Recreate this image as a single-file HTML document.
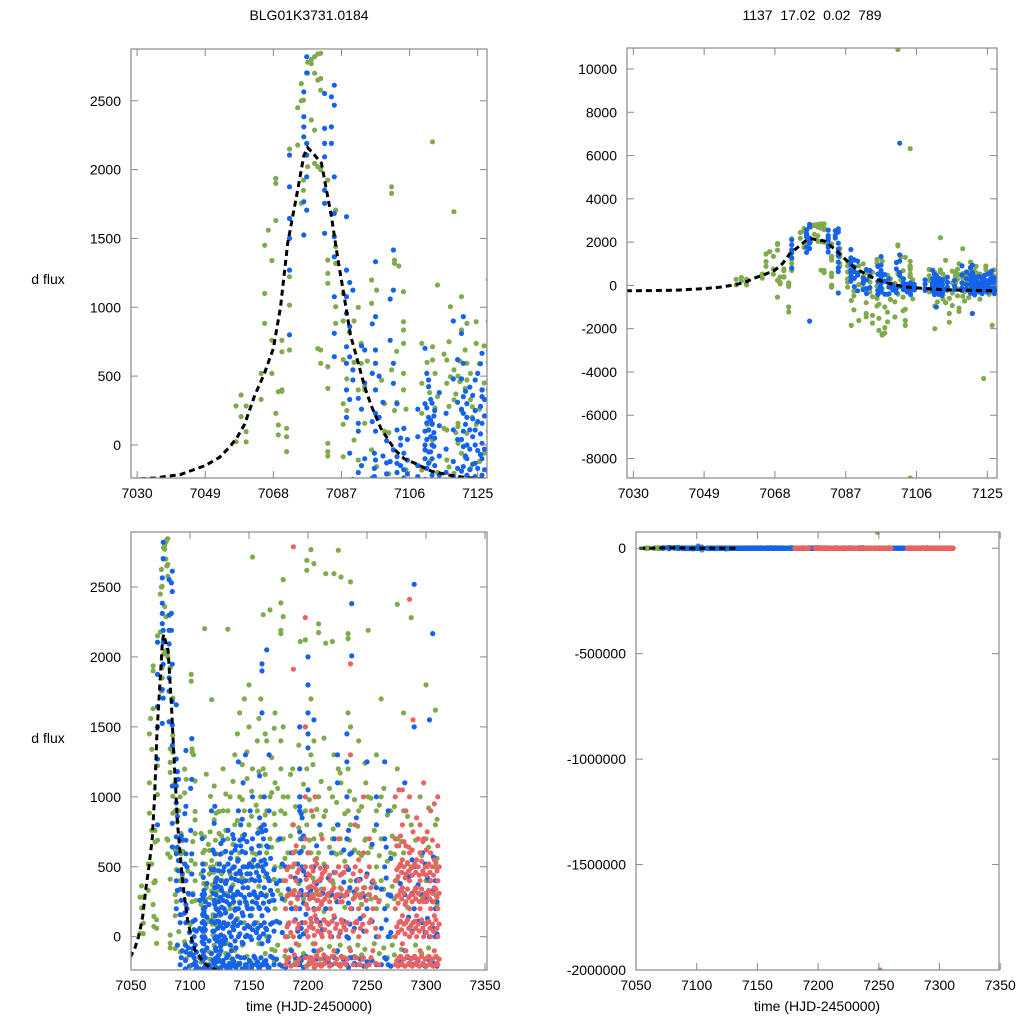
<!DOCTYPE html>
<html><head><meta charset="utf-8">
<style>
html,body{margin:0;padding:0;background:#fff;width:1024px;height:1024px;overflow:hidden;}
svg{display:block;font-family:"Liberation Sans",Arial,sans-serif;}
</style></head>
<body>
<svg id="chart" width="1024" height="1024" viewBox="0 0 1024 1024" xmlns="http://www.w3.org/2000/svg">
<rect width="1024" height="1024" fill="#fff"/>
<text x="309" y="20" font-size="14" text-anchor="middle">BLG01K3731.0184</text>
<text x="812" y="20" font-size="14" text-anchor="middle" xml:space="preserve">1137  17.02  0.02  789</text>
<text x="48" y="284" font-size="14" text-anchor="middle">d flux</text>
<text x="48" y="743" font-size="14" text-anchor="middle">d flux</text>
<text x="309" y="1011" font-size="14" text-anchor="middle">time (HJD-2450000)</text>
<text x="817" y="1011" font-size="14" text-anchor="middle">time (HJD-2450000)</text>
<g id="panels"></g>
</svg>
<script>
// ---- data: [time, [flux values]] groups ----
const greenGroups = [
[7057.6,[283,24]],[7059,[206,363]],[7060.4,[283,97,22]],[7064.6,[331,520]],[7065.6,[883,1450,1100]],[7066.6,[1560]],
[7067.6,[520,1340,760]],[7068.7,[1630,1936,1900,230,-540]],[7069.4,[387,73,145]],[7070.4,[677,760,400,390]],
[7071.7,[121,60,-48,-1000,-1230]],[7072.5,[690,1016,1222,2150]],[7074.8,[2178,2450]],[7075.8,[2625,1755,2500]],
[7076.4,[2505,1850,1924]],[7077.6,[2021,2700,2780]],[7078.6,[2770,2360,2800]],[7079.5,[2820,2287,2045,2700]],
[7080.4,[2650,2021,700,2840]],[7081.2,[2845,2662,2577,2000,690,593]],[7083.2,[1924,1246,1343,1174,411,-48,12,-80,569]],
[7085.4,[1319,1706,1440,1004,883]],[7087.5,[1100,900,620,300,150,-85]],[7088.5,[-1850,-700,480,250]],
[7090.5,[-1620,36,900,600]],[7091.7,[-109,1000,400]],[7092.5,[-1300,-1450,-800,738,593]],[7093.5,[400,424,157,-300]],
[7095.4,[1198,1028,-950,-600,-36]],[7096.8,[-2300,-2250,1125,-157]],[7097.5,[-2200,-1950,-1000,200]],[7099,[-650,300,100]],
[7101,[1875,1827,545,10900,-400]],[7101.8,[1319,1343,250]],[7103,[-1620,-1850,-1100,1300]],
[7104.3,[1113,895,835,738,520,400,6320,-8900]],[7109.4,[738,448,230,-182,-300]],[7110.9,[-2000,-950,150,600]],
[7112.4,[2202,714,617,36,157]],[7113.8,[1162,351,-800,-200]],[7114.8,[-1700,-1300,-600]],[7116.4,[617,109,448,-109]],
[7117.4,[1004,496,-1200,-1050]],[7118.4,[1694,327,545,-206,-500]],[7119.5,[157,12,133,500]],[7120.5,[1077,835,-60,250]],
[7122,[883,593,472,85,300]],[7123.5,[278,200,-300]],[7124,[-4300]],[7124.6,[895,738,150]],[7126.3,[-1850,400]],
[7128,[-200,100,400,600,900,1200]],[7132,[2198,700,300,-50,900]],[7134,[-150,200,450,1000]],[7138,[800,500,200,-100,1300]],
[7142,[1000,600,250,-200,1600]],[7146,[1700,900,400,100,-150]],[7150,[1500,1800,800,400,0]],[7153,[2714,1200,600,200]],
[7157,[900,500,100,1400]],[7160,[1700,1000,650,300,-50]],[7162,[2302,1200,800,500]],[7165,[1400,900,600,300,0]],
[7167.8,[2336,1000,700,400]],[7172,[1600,1100,800,500,200,-100]],[7177,[2386,2190,2167,1400,1200,900,700,500,300]],
[7179,[2553,2288,1500,1000,700,400]],[7183,[1000,600,300,0]],[7187,[1200,800,500,200]],[7193.5,[2110,1000,700,400]],
[7197.8,[2122,1500,900,500]],[7199,[2690,2619,1200,800]],[7202.5,[2767,1700,1300,600]],[7205,[2667,1400,700,300]],
[7209,[2236,2174,1000,600]],[7215,[2595,2098,900,500,200]],[7220.7,[2110,1000,700,400]],[7222,[2595,1300,600]],
[7225.7,[2762,1200,800,500]],[7228,[2571,1100,600,300]],[7234,[2167,2131,1600,1200,900]],[7236,[2536,1500,800,400]],
[7243,[1400,900,600,300]],[7249,[75000,1100,700]],[7251,[2190,1000,600,300]],[7258,[1300,900,500,200]],
[7262,[1700,1000,700,400]],[7270,[900,600,300,0]],[7275.7,[2376,1200,700,400]],[7281,[1600,900,600]],
[7287.5,[2281,800,500]],[7295,[1000,600,300]],[7300,[1800,700,400]],[7308,[1620,800,500,300]],
[7089.2,[-1130,-480,820,-260]],[7094.2,[-1740,-1380,-520,610]],[7095.9,[-1520,-2080,-870,-330]],[7098.2,[-1680,-1240,-420,470]],
[7100.2,[-1460,-760,-210,90]],[7102.4,[-1170,-540,680,310]],[7105,[-620,-180,260]],[7111.6,[-760,-310,380,-120]],
[7113.1,[-420,520,-640,270]],[7115.6,[-350,-930,120,660]],[7117,[-480,280,-160,750]],[7118.9,[-280,370,-720,90]],
[7120,[-560,460,-240,610]],[7121.5,[-380,690,-90,410]],[7123,[-640,520,-170,330]],[7125.5,[-410,590,-120,260]],
[7126.8,[-330,450,-60,720]],
[7130.3,[-120,310,760,1020,180]],[7136.4,[-80,370,660,1110,240]],[7140.2,[-190,130,560,830,1450]],[7144.3,[-60,420,720,980,1230]],
[7148.3,[-140,240,680,1130,1320]],[7152.2,[-210,150,530,860,1040]],[7156.1,[-170,280,590,940]],[7158.4,[-50,360,770,1180,1560]],
[7163.7,[-120,430,870,1160,1450]],[7169.2,[-90,260,640,1030,1280]],[7171.4,[-180,410,880,1490]],[7174.3,[-60,330,690,1060]],
[7180.4,[-140,260,560,880]],[7185.2,[-90,320,720,1160]],[7189.4,[-170,210,610,930]],[7192.2,[-60,380,780,1370]],
[7196.2,[-120,270,640,1090]],[7201.2,[-180,310,690,980]],[7204.2,[-50,420,860,1230]],[7207.4,[-130,260,560,910]],
[7211.2,[-90,340,730,1110]],[7213.6,[-160,180,520,860,1420]],[7218.2,[-70,290,640,1060]],[7221.4,[-140,380,770]],
[7224.2,[-110,250,590,960]],[7227.3,[-60,350,700,1170]],[7231.2,[-150,210,540,880]],[7235.2,[-80,330,690,1040]],
[7239.4,[-140,280,620,980]],[7242.2,[-60,410,790]],[7245.4,[-130,230,580,930]],[7248.2,[-90,350,690,1240]],
[7253.4,[-160,270,640,990]],[7256.2,[-50,380,760]],[7260.4,[-120,260,580,940]],[7264.2,[-80,340,700,1060]],
[7267.3,[-150,220,540,870]],[7271.4,[-60,360,720]],[7273.2,[-130,270,590,930]],[7279.2,[-90,330,680]],
[7284.4,[-140,210,520,860]],[7291.2,[-60,350,690]],[7296.4,[-120,260,580]],[7302.2,[-80,330,640,920]],[7309.4,[-150,230,560,840]]
];
const blueGroups = [
[7072.5,[2105,1875,1645,1500,1270,800]],[7076.5,[2565,2384,2311,2238,1767,1525]],[7077.3,[2820,2703,2190,2105,1948,1706,-1650]],
[7082.3,[2553,2299,2190,2093,1851,1755,1537]],[7084.2,[2529,2311,2190]],[7085,[2468,2613,1948,1682,1513,1367,1077,641,811,-350]],
[7088.4,[1658,1270,1077,956,714,593,400,200]],[7090.2,[472,1125,545,-250]],[7091.7,[157,339,100,-200]],[7093.5,[690,450,-100]],
[7096.5,[1331,932,690,593,400,230,-109,100,-300]],[7097.5,[500,200,-400]],[7101.5,[1416,1125,448,593,-36,6570]],
[7102.5,[-133,-85,109,-200,300]],[7103.5,[-150,0,-300,50]],[7110.3,[-36,702,300,-100,-250,0,100]],
[7111.3,[424,472,-133,109,-1000,200,-50]],[7112.3,[303,-100,0,-220,150]],[7113,[50,-150,250,-300]],
[7121,[932,593,351,230,-12,-157,-1300,100]],[7122,[0,200,-100,300,-220]],[7124.3,[472,109,-133,-230,0,250]],
[7126.2,[666,351,157,12,-100,-220,400]],
[7129,[-200,-50,100,300,500,200,0]],[7131,[-150,80,250,400,-220]],[7135,[-200,0,150,350,600,420,-100]],
[7137,[-180,50,250,500,700,300,100]],[7139,[-220,-80,120,300,450,650,200]],[7141,[-200,0,200,400,550,900,1250]],
[7143,[-150,100,300,450,800,650]],[7145,[-230,-50,150,350,500,700,1100]],[7147,[-200,0,250,400,600,1300]],
[7149,[-220,80,200,350,500]],[7151,[-180,0,150,300,450,900]],[7153,[-200,50,250,500,700,1000]],[7155,[-150,100,300,400]],
[7159,[-220,0,200,400,600,850,1150]],[7161,[-200,-50,150,300,500,750,1600,1900,1950]],[7163,[-180,100,350,550,800,1000]],
[7165,[-200,50,200,450,650,2050]],[7167,[-220,0,250,400,900,1300]],[7170,[-150,100,300]],[7176,[-200,100,400,700]],
[7181,[-220,0,200,500]],[7186,[-100,200,600]],[7193,[-200,0,200,400,600,750,900,930,1000,1200,1500]],
[7195,[-150,100,300,500,700,850]],[7200,[-200,0,300,600,1050,1350,1450,1600,1800,2000]],[7205,[-100,200,500,1550]],
[7210,[-200,100,400,800]],[7215,[-150,200,500]],[7220,[-200,0,300,600]],[7225,[-100,250,800,1100,1300]],
[7233,[-200,0,300,500,700,1000,1250,1450]],[7237,[-150,200,600,2381,2007]],[7241,[-200,100,400,850]],
[7250,[-180,200,450,1250]],[7258,[-200,0,350,800,1000]],[7265,[-150,200,500,700,1250]],[7268,[-200,0,300,900]],
[7282,[-100,300,1100]],[7290,[2519,1500,-150,200,500]],[7297,[-200,100,300,600]],[7303,[-150,0,400,1550]],
[7305.7,[2167,250]],[7308,[-200,0,200,400]],
[7089.3,[1180,860,640,330,-60]],[7092.6,[720,260,-150,-380]],[7095.6,[880,520,170,-240,-420]],[7098.6,[310,-80,-390]],
[7100.6,[1060,760,-120,-330]],[7104.4,[-60,-240,120,-420,-180]],[7110.8,[520,-360,160,-170,40,-420,270]],
[7111.9,[-280,60,330,-50,-410,180]],[7112.8,[-360,210,-10,90,-460]],[7120.5,[810,480,-190,40,-360,260]],
[7121.6,[150,-270,390,-80,-440]],[7122.8,[-300,110,-180,420,-30]],[7123.6,[360,-140,60,-380,190]],[7125,[-310,170,-40,520,-170]],
[7125.8,[280,-260,80,-70,590]],[7126.9,[-180,210,-30,330,-380]],
[7096.2,[-230,-170,-60]],[7099.6,[-210,-130,30]],[7105.4,[-210,-110,40]],
[7108.3,[-230,-150,60,260]],[7114.3,[-220,-80,140,380]],[7116.2,[-200,-30,230]],[7118.2,[-230,-120,110,480,900]],
[7119.4,[-170,40,310,620]],
[7128.1,[-170,60,260,470,690]],[7130.2,[-210,-20,170,380,610]],[7132.3,[-130,90,290,520,760]],[7133.4,[-190,30,230,470]],
[7134.2,[-220,-60,140,330,560]],[7136.2,[-160,70,280,490,730]],[7138.2,[-210,-30,190,410,620]],[7140.3,[-140,80,320,540]],
[7142.2,[-190,20,240,470,690]],[7144.2,[-230,-40,170,390,610,840]],[7146.2,[-150,60,280,500,730]],[7148.2,[-200,10,220,450,680]],
[7150.3,[-170,70,300,520]],[7152.2,[-220,-20,200,410,630]],[7154.2,[-140,90,320,550]],[7156.3,[-200,30,240,460]],
[7157.4,[-180,60,280,510,740]],[7158.3,[-220,-10,210,430,650]],[7160.2,[-150,80,310,540,780]],[7162.2,[-200,20,240,470,700]],
[7164.2,[-170,60,290,520,760]],[7166.2,[-220,-30,190,420,640]],[7168.3,[-140,90,330,560]],[7171.2,[-200,40,260,480]],
[7173.3,[-160,110,380]],[7178.2,[-210,30,270,520]],[7183.3,[-180,90,340]],[7189.2,[-150,120,420]],
[7191.3,[-200,40,280,520]],[7194.2,[-170,60,330,610,880]],[7196.2,[-220,20,240,470,720]],[7198.3,[-140,160,440]],
[7202.3,[-190,70,330]],[7207.3,[-160,120,380,650]],[7212.3,[-200,50,310]],[7217.2,[-180,90,420]],[7222.3,[-150,140,460,700]],
[7227.2,[-200,30,290]],[7230.3,[-170,110,390,620]],[7234.3,[-220,-10,240,480,760]],[7235.4,[-150,90,350,590]],
[7239.2,[-190,60,320]],[7244.2,[-160,130,410]],[7247.3,[-210,40,290]],[7254.3,[-170,110,390,660]],
[7262.2,[-200,60,340]],[7266.3,[-160,120,420,640]],[7270.2,[-210,30,290,560]],[7278.2,[-180,110,380]],
[7285.3,[-150,140,430]],[7288.2,[-200,40,310,550]],[7293.3,[-170,110,370]],[7299.2,[-210,30,280,520]],
[7301.3,[-160,130,420]],[7306.3,[-190,60,330,570]],[7309.3,[-210,20,250]]
];
const redGroups = [
[7181,[-200,0,200,400,-100]],[7184,[-150,100,300,500]],[7187.6,[2787,1912,800,600,300,0,-200]],[7190,[-200,-50,200,400,650]],
[7197.7,[2281,1500,1000,700,500,300,100,-150]],[7200,[-200,0,200,350,450,600]],[7203,[-150,100,300,500,900]],
[7206,[-200,-50,150,350,550,1000]],[7209,[-100,200,400,300]],[7212,[-200,0,250,450,700]],[7216,[-150,100,300,500]],
[7219,[-200,0,200,400]],[7222,[-100,150,350]],[7226,[-200,0,300,500,700]],[7229,[-150,100,250,450]],
[7232,[-200,50,300,500]],[7236,[1950,1300,200,-100]],[7240,[-150,100,300,500,800]],[7243,[-200,0,200,400,550]],
[7247,[-150,150,350,600,1000]],[7251,[-2000000]],[7252,[-200,100,300,500,700]],[7255,[-100,200,400]],[7260,[-200,0,250]],
[7274,[-200,0,200,400,700,1000]],[7277,[-150,100,300,500,650,1050]],[7280,[-200,-50,150,350,550,800,1050]],
[7283,[-100,100,250,450,650,900]],[7286,[-200,0,200,400,600,1000,2412]],[7289,[-150,100,300,500,750,1550]],
[7292,[-200,0,150,350,550,850]],[7295,[-100,200,400,600,800]],[7298,[-200,0,250,450,700,1100]],
[7301,[-150,100,300,500,750]],[7304,[-200,0,200,400,600,900]],[7307,[-100,150,350,550,950]],[7310,[-200,0,200,400,650,1000]],
[7182.3,[-170,70,290,480]],[7185.4,[-210,30,240,430]],[7188.4,[-130,110,330,520]],[7191.2,[-190,60,270,460]],
[7192.4,[-160,90,310,480]],[7198.6,[-210,40,230,410]],[7201.4,[-150,70,270,440]],[7202.3,[-190,130,360]],
[7204.4,[-170,60,280,470]],[7205.3,[-220,10,190,390]],[7207.4,[-140,110,330,520]],[7208.3,[-200,40,260]],
[7210.4,[-160,80,300,490]],[7211.3,[-210,20,230,420]],[7213.4,[-130,120,340]],[7214.3,[-190,50,270,470]],
[7217.4,[-160,90,310]],[7218.3,[-210,30,250,440]],[7220.4,[-140,110,330]],[7223.3,[-190,60,280,460]],
[7224.4,[-160,90,300]],[7227.4,[-210,40,250,440]],[7228.3,[-140,120,340]],[7230.4,[-190,70,290,460]],
[7233.4,[-160,100,320]],[7238.3,[-200,40,270,450]],[7241.4,[-150,110,340]],[7244.3,[-200,60,280,470]],
[7246.4,[-160,90,310]],[7249.3,[-210,40,260,430]],[7253.4,[-150,120,350]],[7257.3,[-190,60,280]],
[7275.3,[-170,70,290,480,650]],[7276.4,[-210,30,240,430]],[7278.4,[-140,110,330,520,720]],[7279.3,[-190,50,270,460]],
[7281.4,[-160,90,310,500,680]],[7282.3,[-210,20,230,420]],[7284.3,[-140,120,340,530]],[7285.4,[-190,60,280,470,640]],
[7287.4,[-160,80,300,490]],[7288.3,[-210,30,250,440,620]],[7290.4,[-140,110,330,520]],[7291.3,[-190,60,270,460]],
[7293.4,[-160,90,310,500,700]],[7294.3,[-210,40,250,440]],[7296.3,[-140,120,340,540]],[7297.4,[-190,60,280,470,680]],
[7299.4,[-160,90,310,500]],[7300.3,[-210,30,250,440,620]],[7302.4,[-140,110,330,520]],[7303.3,[-190,60,270,460]],
[7305.4,[-160,90,310,500,690]],[7306.3,[-210,40,250,440]],[7308.4,[-140,120,340,530]],[7309.3,[-190,60,280,470]],
[7311.2,[-160,90,310,500]]
];
const modelT = [7028,7035,7042,7049,7053,7056,7058,7060,7062.7,7065.5,7068,7070,7072,7074.8,7076.5,7077.6,7079,7081.4,7084.2,7086,7087.9,7089.5,7091.7,7093.5,7095.4,7098,7101.9,7104.5,7107.5,7112,7116.9,7122,7127.6,7135];
const modelF = [-250,-240,-215,-150,-90,-10,60,150,351,520,700,1000,1466,1853,2100,2160,2120,2047,1660,1350,1054,800,593,420,279,120,-36,-100,-133,-190,-218,-238,-246,-250];
const ticksX1 = [7030,7049,7068,7087,7106,7125];
const ticksY1 = [0,500,1000,1500,2000,2500];
const ticksY2 = [-8000,-6000,-4000,-2000,0,2000,4000,6000,8000,10000];
const ticksX3 = [7050,7100,7150,7200,7250,7300,7350];
const ticksY4 = [0,-500000,-1000000,-1500000,-2000000];

const NS = "http://www.w3.org/2000/svg";
const root = document.getElementById('panels');
const COL = {g:"#80ab4c", b:"#1563ec", r:"#ea6363"};

const panels = [
 {id:'top-left', L:131,R:487,T:49,B:478, x0:7028.3,x1:7127.6, y0:-240,y1:2876, xt:ticksX1, yt:ticksY1},
 {id:'top-right', L:627,R:997,T:48,B:478, x0:7028.3,x1:7127.6, y0:-8900,y1:10970, xt:ticksX1, yt:ticksY2},
 {id:'bottom-left', L:131,R:487,T:532,B:970, x0:7050,x1:7351.7, y0:-238,y1:2893, xt:ticksX3, yt:ticksY1},
 {id:'bottom-right', L:636,R:999,T:532,B:970, x0:7050,x1:7349, y0:-2000000,y1:77000, xt:ticksX3, yt:ticksY4}
];

function mk(tag, attrs, parent){
  const e = document.createElementNS(NS, tag);
  for (const k in attrs) e.setAttribute(k, attrs[k]);
  parent.appendChild(e);
  return e;
}

panels.forEach(p => {
  const sx = t => p.L + (t - p.x0) / (p.x1 - p.x0) * (p.R - p.L);
  const sy = v => p.B - (v - p.y0) / (p.y1 - p.y0) * (p.B - p.T);
  const g = mk('g', {}, root);
  
  
  const clip = mk('clipPath', {id:'clip-' + p.id}, g);
  mk('rect', {x:p.L, y:p.T, width:p.R-p.L, height:p.B-p.T}, clip);
  const plot = mk('g', {'clip-path':'url(#clip-' + p.id + ')'}, g);
  
  

  [['g',greenGroups,'green'],['b',blueGroups,'blue'],['r',redGroups,'red']].forEach(([c, groups, nm]) => {
    const sg = mk('g', {fill:COL[c]}, plot);
    
    
    groups.forEach(([t, vals]) => {
      vals.forEach(v => {
        const dot = mk('circle', {cx:sx(t).toFixed(1), cy:sy(v).toFixed(1), r:2.6}, sg);
        
        
      });
    });
  });

  const d = modelT.map((t,i) => (i ? 'L' : 'M') + sx(t).toFixed(1) + ',' + sy(modelF[i]).toFixed(1)).join(' ');
  const curve = mk('path', {d:d, fill:'none', stroke:'#000', 'stroke-width':3, 'stroke-dasharray':'6,4'}, plot);
  
  

  const frame = mk('rect', {x:p.L, y:p.T, width:p.R-p.L, height:p.B-p.T, fill:'none', stroke:'#888', 'stroke-width':1.2}, g);
  
  

  p.xt.forEach(t => {
    const x = sx(t);
    mk('line', {x1:x, x2:x, y1:p.B, y2:p.B-7, stroke:'#888'}, g);
    mk('line', {x1:x, x2:x, y1:p.T, y2:p.T+7, stroke:'#888'}, g);
    const lb = mk('text', {x:x, y:p.B+20, 'font-size':14, 'text-anchor':'middle', fill:'#000'}, g);
    lb.textContent = t;
    
    
  });
  p.yt.forEach(v => {
    const y = sy(v);
    mk('line', {x1:p.L, x2:p.L+7, y1:y, y2:y, stroke:'#888'}, g);
    mk('line', {x1:p.R, x2:p.R-7, y1:y, y2:y, stroke:'#888'}, g);
    const lb = mk('text', {x:p.L-10, y:y+5, 'font-size':14, 'text-anchor':'end', fill:'#000'}, g);
    lb.textContent = v;
    
    
  });
});
</script>
</body></html>
